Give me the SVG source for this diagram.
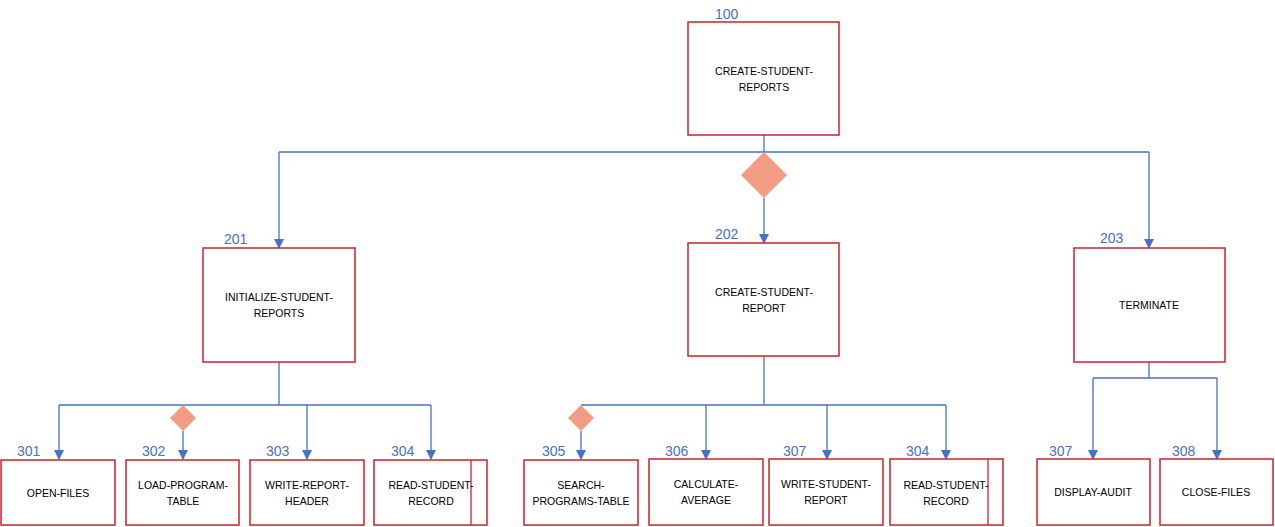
<svg xmlns="http://www.w3.org/2000/svg" width="1275" height="527" viewBox="0 0 1275 527">
<defs>
<marker id="ar" viewBox="0 0 10 10" refX="9" refY="5" markerWidth="10" markerHeight="10" markerUnits="userSpaceOnUse" orient="auto">
<path d="M0,0 L10,5 L0,10 z" fill="#4472C4"/>
</marker>
<style>
.box{fill:#fff;stroke:#D0202A;stroke-width:1.5}
.t{font-family:"Liberation Sans",Arial,sans-serif;font-size:10.5px;fill:#000;text-anchor:middle}
.n{font-family:"Liberation Sans",Arial,sans-serif;font-size:14px;fill:#4472C4}
.c{fill:none;stroke:#4472C4;stroke-width:1.3}
.d{fill:#F29C84}
</style>
</defs>
<rect width="1275" height="527" fill="#fff"/>
<g id="connectors">
<path class="c" d="M764,135 V152 M279,152 H1149"/>
<path class="c" d="M279,152 V248" marker-end="url(#ar)"/>
<path class="c" d="M1149,152 V248" marker-end="url(#ar)"/>
<path class="c" d="M764,198 V243" marker-end="url(#ar)"/>
<polygon class="d" points="764,152 787,175 764,198 741,175"/>
<path class="c" d="M279,362 V405 M59,405 H431"/>
<path class="c" d="M59,405 V459" marker-end="url(#ar)"/>
<path class="c" d="M183,431 V459" marker-end="url(#ar)"/>
<path class="c" d="M307,405 V459" marker-end="url(#ar)"/>
<path class="c" d="M431,405 V459" marker-end="url(#ar)"/>
<polygon class="d" points="183,405 196,418 183,431 170,418"/>
<path class="c" d="M764,356 V405 M581,405 H946"/>
<path class="c" d="M581,431 V459" marker-end="url(#ar)"/>
<path class="c" d="M706,405 V459" marker-end="url(#ar)"/>
<path class="c" d="M827,405 V459" marker-end="url(#ar)"/>
<path class="c" d="M946,405 V459" marker-end="url(#ar)"/>
<polygon class="d" points="581,405 594,418 581,431 568,418"/>
<path class="c" d="M1149,362 V378 M1093,378 H1217"/>
<path class="c" d="M1093,378 V459" marker-end="url(#ar)"/>
<path class="c" d="M1217,378 V459" marker-end="url(#ar)"/>
</g>
<g id="n100"><rect class="box" x="688" y="22" width="151" height="113"/><text class="n" x="715" y="19">100</text><text class="t" x="764" y="75">CREATE-STUDENT-</text><text class="t" x="764" y="91">REPORTS</text></g>
<g id="n201"><rect class="box" x="203" y="248" width="152" height="114"/><text class="n" x="224" y="244">201</text><text class="t" x="279" y="301">INITIALIZE-STUDENT-</text><text class="t" x="279" y="317">REPORTS</text></g>
<g id="n202"><rect class="box" x="688" y="243" width="151" height="113"/><text class="n" x="715" y="239">202</text><text class="t" x="764" y="296">CREATE-STUDENT-</text><text class="t" x="764" y="312">REPORT</text></g>
<g id="n203"><rect class="box" x="1074" y="248" width="151" height="114"/><text class="n" x="1100" y="243">203</text><text class="t" x="1149" y="309">TERMINATE</text></g>
<g id="n301"><rect class="box" x="1" y="460" width="114" height="65"/><text class="n" x="17" y="456">301</text><text class="t" x="58" y="497">OPEN-FILES</text></g>
<g id="n302"><rect class="box" x="126" y="460" width="113" height="65"/><text class="n" x="142" y="456">302</text><text class="t" x="183" y="489">LOAD-PROGRAM-</text><text class="t" x="183" y="505">TABLE</text></g>
<g id="n303"><rect class="box" x="250" y="460" width="114" height="65"/><text class="n" x="266" y="456">303</text><text class="t" x="307" y="489">WRITE-REPORT-</text><text class="t" x="307" y="505">HEADER</text></g>
<g id="n304a"><rect class="box" x="374" y="460" width="113" height="65"/><line x1="471" y1="460" x2="471" y2="525" stroke="#D0202A" stroke-width="1.3"/><text class="n" x="391" y="456">304</text><text class="t" x="431" y="489">READ-STUDENT-</text><text class="t" x="431" y="505">RECORD</text></g>
<g id="n305"><rect class="box" x="524" y="460" width="114" height="65"/><text class="n" x="542" y="456">305</text><text class="t" x="581" y="489">SEARCH-</text><text class="t" x="581" y="505">PROGRAMS-TABLE</text></g>
<g id="n306"><rect class="box" x="649" y="459" width="114" height="66"/><text class="n" x="665" y="456">306</text><text class="t" x="706" y="488">CALCULATE-</text><text class="t" x="706" y="504">AVERAGE</text></g>
<g id="n307a"><rect class="box" x="769" y="459" width="114" height="66"/><text class="n" x="783" y="456">307</text><text class="t" x="826" y="488">WRITE-STUDENT-</text><text class="t" x="826" y="504">REPORT</text></g>
<g id="n304b"><rect class="box" x="890" y="459" width="113" height="66"/><line x1="988" y1="459" x2="988" y2="525" stroke="#D0202A" stroke-width="1.3"/><text class="n" x="906" y="456">304</text><text class="t" x="946" y="489">READ-STUDENT-</text><text class="t" x="946" y="505">RECORD</text></g>
<g id="n307b"><rect class="box" x="1037" y="459" width="113" height="66"/><text class="n" x="1049" y="456">307</text><text class="t" x="1093" y="496">DISPLAY-AUDIT</text></g>
<g id="n308"><rect class="box" x="1160" y="459" width="113" height="66"/><text class="n" x="1172" y="456">308</text><text class="t" x="1216" y="496">CLOSE-FILES</text></g>
</svg>
